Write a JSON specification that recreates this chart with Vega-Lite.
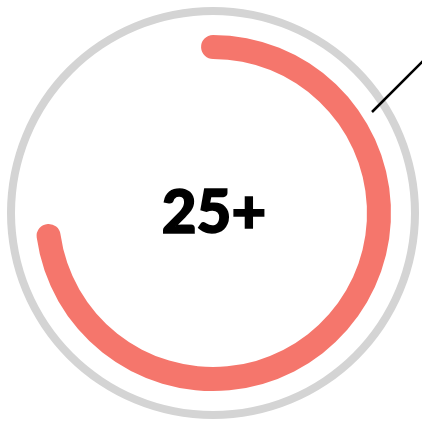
{
  "$schema": "https://vega.github.io/schema/vega-lite/v6.json",
  "width": 422,
  "height": 426,
  "autosize": {"type": "none"},
  "padding": {"left": 2, "top": 0, "right": 0, "bottom": 0},
  "background": "white",
  "config": {"view": {"stroke": null}},
  "layer": [
    {
      "data": {"values": [{"part": "track", "start": 0, "end": 1}]},
      "mark": {"type": "arc", "radius": 206, "radius2": 198, "color": "#d4d4d4"},
      "encoding": {
        "theta": {"field": "start", "type": "quantitative", "stack": null, "scale": {"domain": [0, 1], "range": [0, 6.283185307]}},
        "theta2": {"field": "end"}
      }
    },
    {
      "data": {"values": [{"part": "value", "start": 0, "end": 0.728}]},
      "mark": {"type": "arc", "radius": 178, "radius2": 154, "cornerRadius": 12, "thetaOffset": -0.072, "theta2Offset": 0.072, "color": "#f5766c"},
      "encoding": {
        "theta": {"field": "start", "type": "quantitative", "stack": null, "scale": {"domain": [0, 1], "range": [0, 6.283185307]}},
        "theta2": {"field": "end"}
      }
    },
    {
      "data": {"values": [{"x": 159, "y": 101, "x2": 222, "y2": 164}]},
      "mark": {"type": "rule", "color": "black", "strokeWidth": 2.5},
      "encoding": {
        "x": {"field": "x", "type": "quantitative", "scale": {"domain": [-211, 211]}, "axis": null},
        "y": {"field": "y", "type": "quantitative", "scale": {"domain": [-213, 213]}, "axis": null},
        "x2": {"field": "x2"},
        "y2": {"field": "y2"}
      }
    },
    {
      "data": {"values": [{"label": "25+"}]},
      "mark": {"type": "text", "font": "Lato", "fontWeight": 900, "fontSize": 60, "color": "black", "stroke": "black", "strokeWidth": 1.6, "align": "center", "baseline": "middle", "dx": 1, "dy": 2},
      "encoding": {"text": {"field": "label", "type": "nominal"}}
    }
  ]
}
